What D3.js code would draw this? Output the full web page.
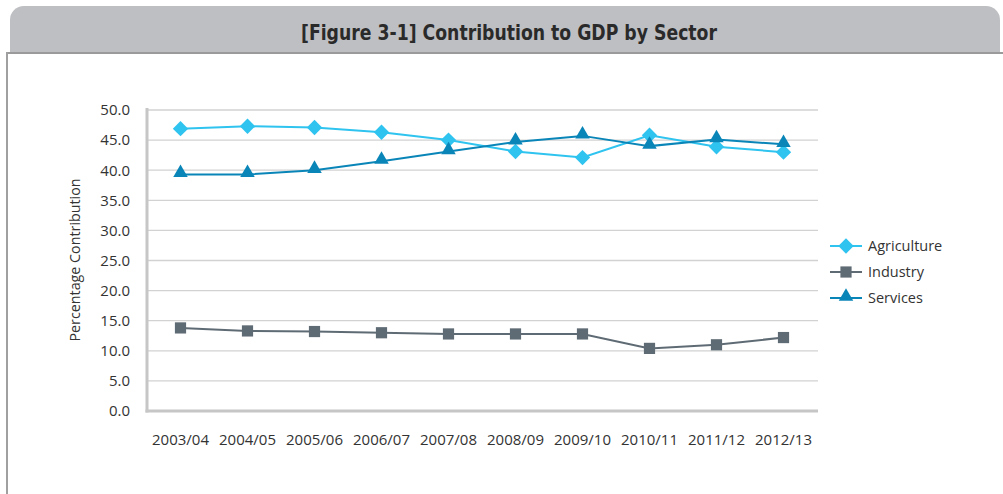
<!DOCTYPE html>
<html><head><meta charset="utf-8">
<script src="https://cdn.jsdelivr.net/npm/d3@7"></script>
<style>body{margin:0;background:#fff}svg{display:block}</style>
</head><body><svg id="c" width="1003" height="494"></svg>
<script>
const categories = ["2003/04","2004/05","2005/06","2006/07","2007/08","2008/09","2009/10","2010/11","2011/12","2012/13"];
const agriculture = [46.9,47.3,47.1,46.3,45.0,43.1,42.1,45.8,43.9,43.0];
const industry = [13.8,13.3,13.2,13.0,12.8,12.8,12.8,10.4,11.0,12.2];
const services = [39.3,39.3,40.0,41.5,43.1,44.7,45.7,44.0,45.1,44.3];
const yTicks = [0,5,10,15,20,25,30,35,40,45,50];
const seriesNames = ["Agriculture","Industry","Services"];
const title = "[Figure 3-1] Contribution to GDP by Sector";
const yTitle = "Percentage Contribution";

const svg = d3.select("#c");
const font = "'Open Sans','Noto Sans',sans-serif";

// header tab
const tabPath = d3.path();
tabPath.moveTo(10,53); tabPath.lineTo(10,20); tabPath.arcTo(10,6,24,6,14);
tabPath.lineTo(986,6); tabPath.arcTo(1000,6,1000,20,14); tabPath.lineTo(1000,53); tabPath.closePath();
svg.append("path").attr("d",tabPath.toString()).attr("fill","#bebfc2");
svg.append("line").attr("x1",6).attr("x2",1003).attr("y1",53).attr("y2",53).attr("stroke","#9a9a9a").attr("stroke-width",2);
svg.append("line").attr("x1",7).attr("x2",7).attr("y1",52).attr("y2",494).attr("stroke","#a0a0a0").attr("stroke-width",2);
svg.append("text").attr("x",509).attr("y",40).attr("text-anchor","middle")
  .attr("font-family","'Liberation Sans Narrow','DejaVu Sans Condensed','Roboto',sans-serif")
  .attr("font-weight","bold").attr("font-size",22).attr("fill","#2a2a2a")
  .attr("textLength",416).attr("lengthAdjust","spacingAndGlyphs").text(title);

const x = d3.scaleBand().domain(categories).range([147,817]);
const y = d3.scaleLinear().domain([0,50]).range([411,110]);

// gridlines
svg.append("g").selectAll("line").data(yTicks.filter(d=>d>0)).join("line")
  .attr("x1",147).attr("x2",818).attr("y1",d=>y(d)).attr("y2",d=>y(d))
  .attr("stroke","#d2d2d2").attr("stroke-width",1.3);

// y axis
const yAxis = svg.append("g").attr("transform","translate(147,0)")
  .call(d3.axisLeft(y).tickValues(yTicks).tickFormat(d3.format(".1f")).tickSize(0).tickPadding(17));
yAxis.select(".domain").remove();
yAxis.selectAll("text").attr("font-family",font).attr("font-size",15).attr("fill","#333");

// x axis
const xAxis = svg.append("g").attr("transform","translate(0,411)")
  .call(d3.axisBottom(x).tickSize(0).tickPadding(23));
xAxis.select(".domain").remove();
xAxis.selectAll("text").attr("font-family",font).attr("font-size",15).attr("fill","#333");

// axis lines
svg.append("line").attr("x1",147).attr("x2",147).attr("y1",y(50)-2).attr("y2",y(0)+1.5).attr("stroke","#c6c6c6").attr("stroke-width",3);
svg.append("line").attr("x1",145.5).attr("x2",818).attr("y1",y(0)).attr("y2",y(0)).attr("stroke","#c6c6c6").attr("stroke-width",3);

svg.append("text").attr("transform","translate(80,260) rotate(-90)").attr("text-anchor","middle")
  .attr("font-family",font).attr("font-size",14.3).attr("fill","#333").text(yTitle);

const colors = {Agriculture:"#2fc3ef",Industry:"#5f6b74",Services:"#0a85b8"};
const symbols = {Agriculture:d3.symbolDiamond2,Industry:d3.symbolSquare2,Services:d3.symbolTriangle2};
const sizes = {Agriculture:150,Industry:160,Services:150};
const dataMap = {Agriculture:agriculture,Industry:industry,Services:services};
const cx = c => x(c)+x.bandwidth()/2;

const line = d3.line().x((d,i)=>cx(categories[i])).y(d=>y(d));
seriesNames.forEach(name=>{
  const g = svg.append("g");
  g.append("path").datum(dataMap[name]).attr("d",line).attr("fill","none")
    .attr("stroke",colors[name]).attr("stroke-width",2);
  const sym = d3.symbol().type(symbols[name]).size(sizes[name]);
  g.selectAll("path.m").data(dataMap[name]).join("path").attr("class","m")
    .attr("transform",(d,i)=>`translate(${cx(categories[i])},${y(d) + (name==="Services"?-1.5:0)})`)
    .attr("d",sym).attr("fill",colors[name]);
});

// legend
seriesNames.forEach((name,i)=>{
  const ly = 246 + i*26;
  const g = svg.append("g");
  g.append("line").attr("x1",830).attr("x2",862).attr("y1",ly).attr("y2",ly).attr("stroke",colors[name]).attr("stroke-width",2);
  g.append("path").attr("transform",`translate(846,${ly + (name==="Services"?-1.5:0)})`)
    .attr("d",d3.symbol().type(symbols[name]).size(sizes[name])).attr("fill",colors[name]);
  g.append("text").attr("x",868).attr("y",ly+5).attr("font-family",font).attr("font-size",14.5).attr("fill","#333").text(name);
});
</script></body></html>
